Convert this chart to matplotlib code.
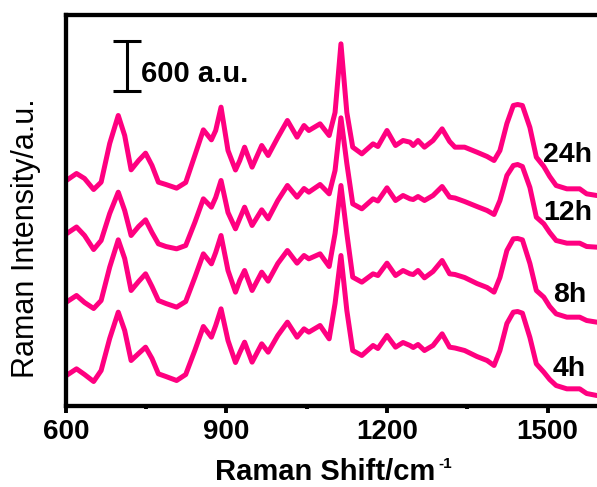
import matplotlib
matplotlib.use("Agg")
import matplotlib.pyplot as plt
from matplotlib.ticker import FixedLocator, NullLocator

plt.rcParams['font.family'] = ['Liberation Sans', 'DejaVu Sans']

# Raman shift (cm^-1)
wavenumber = [601, 620, 635, 652, 666, 682, 698, 710, 722, 736, 749, 761, 773, 787, 807,
              824, 841, 857, 872, 880, 890, 903, 917, 925, 934, 948, 966, 978, 996, 1014,
              1032, 1045, 1054, 1075, 1092, 1103, 1114, 1125, 1136, 1153, 1174, 1183, 1200,
              1216, 1230, 1243, 1249, 1258, 1270, 1286, 1303, 1317, 1327, 1345, 1368, 1387,
              1400, 1411, 1424, 1436, 1444, 1453, 1467, 1479, 1493, 1504, 1516, 1536, 1560,
              1573, 1592]

# intensities as plotted (stacked), a.u.
int_24h = [2700, 2784, 2724, 2592, 2680, 3144, 3480, 3240, 2828, 2940, 3028, 2880, 2680, 2652,
           2608, 2676, 3000, 3308, 3188, 3300, 3580, 3060, 2826, 2940, 3100, 2860, 3120, 3000,
           3216, 3420, 3220, 3360, 3300, 3380, 3240, 3516, 4340, 3516, 3100, 3020, 3140, 3108,
           3300, 3120, 3180, 3160, 3120, 3180, 3100, 3180, 3320, 3168, 3100, 3100, 3040, 2988,
           2940, 3060, 3384, 3600, 3612, 3600, 3336, 2980, 2868, 2748, 2640, 2600, 2600, 2540,
           2520]
int_12h = [2060, 2142, 2040, 1872, 1980, 2304, 2560, 2340, 2040, 2148, 2228, 2076, 1940, 1908,
           1880, 1920, 2196, 2480, 2380, 2496, 2700, 2316, 2120, 2244, 2380, 2160, 2348, 2240,
           2460, 2640, 2500, 2604, 2560, 2652, 2540, 2820, 3452, 2904, 2420, 2360, 2480, 2454,
           2612, 2460, 2520, 2480, 2472, 2508, 2460, 2520, 2628, 2500, 2490, 2448, 2388, 2340,
           2292, 2460, 2760, 2880, 2892, 2868, 2616, 2260, 2180, 2076, 1980, 1948, 1948, 1908,
           1900]
int_8h = [1240, 1320, 1236, 1164, 1260, 1660, 1988, 1764, 1380, 1488, 1580, 1428, 1260, 1224,
          1180, 1248, 1536, 1820, 1700, 1836, 2040, 1620, 1360, 1500, 1620, 1380, 1600, 1492,
          1704, 1860, 1708, 1800, 1760, 1820, 1668, 2064, 2640, 2064, 1540, 1480, 1580, 1560,
          1708, 1560, 1620, 1580, 1572, 1620, 1532, 1608, 1740, 1580, 1572, 1536, 1464, 1416,
          1360, 1536, 1860, 2000, 2004, 1988, 1704, 1380, 1300, 1188, 1100, 1060, 1060, 1020,
          1000]
int_4h = [360, 440, 372, 288, 420, 804, 1120, 900, 540, 624, 700, 564, 380, 348,
          300, 372, 660, 948, 820, 960, 1160, 780, 516, 636, 760, 520, 740, 640,
          840, 1000, 820, 920, 880, 960, 800, 1224, 1800, 1140, 660, 600, 720, 684,
          840, 700, 756, 720, 696, 732, 660, 720, 860, 700, 690, 660, 588, 540,
          480, 660, 984, 1120, 1128, 1108, 816, 500, 400, 312, 240, 200, 200, 144,
          120]

series = [int_24h, int_12h, int_8h, int_4h]
labels = ["24h", "12h", "8h", "4h"]
label_x = [1492, 1492, 1510, 1510]
label_y = [2920, 2220, 1240, 360]

scale_au = 600
scale_bar_x = 715
scale_bar_center = 4080

x_ticks = [600, 900, 1200, 1500]
x_minor = [750, 1050, 1350]

color = "#FF0080"

fig = plt.figure(figsize=(5.97, 4.87), dpi=100)
ax = fig.add_axes([65.8 / 597, 81.5 / 487, 535.3 / 597, 390.5 / 487])

for s in series:
    ax.plot(wavenumber, s, color=color, lw=3.6, solid_joinstyle='round', solid_capstyle='round')

for t, lx, ly in zip(labels, label_x, label_y):
    ax.text(lx, ly, t, fontsize=20.5, fontweight='bold', ha='left', va='baseline', color='black')

# scale bar
ax.errorbar([scale_bar_x], [scale_bar_center], yerr=[[scale_au / 2], [scale_au / 2]],
            fmt='none', ecolor='black', elinewidth=2.2, capsize=10, capthick=2.2)
ax.text(741, 3880, f"{scale_au} a.u.", fontsize=21, fontweight='bold', ha='left', va='baseline')

ax.set_xlim(600, 1600)
ax.set_ylim(0, 4686)
ax.xaxis.set_major_locator(FixedLocator(x_ticks))
ax.xaxis.set_minor_locator(FixedLocator(x_minor))
ax.yaxis.set_major_locator(NullLocator())
ax.yaxis.set_minor_locator(NullLocator())
ax.tick_params(axis='x', which='major', direction='out', length=5, width=2.8,
               labelsize=20, pad=5)
ax.tick_params(axis='x', which='minor', direction='out', length=2.5, width=2.8)
for lab in ax.get_xticklabels():
    lab.set_fontweight('bold')
for sp in ax.spines.values():
    sp.set_linewidth(3.1)
ax.spines['right'].set_visible(False)

xl = fig.text(215 / 597, 1 - 480 / 487, "Raman Shift/cm", fontsize=21,
              fontweight='bold', ha='left', va='baseline')
ax.annotate("-1", xy=(1.0, 0.0), xycoords=xl, xytext=(2, 13), textcoords='offset points',
            fontsize=11, fontweight='bold', ha='left', va='baseline', annotation_clip=False)
fig.text(26 / 597, 1 - 238 / 487, "Raman Intensity/a.u.", fontsize=22, rotation=90,
         ha='center', va='center')

fig.savefig("out.png", dpi=100)
